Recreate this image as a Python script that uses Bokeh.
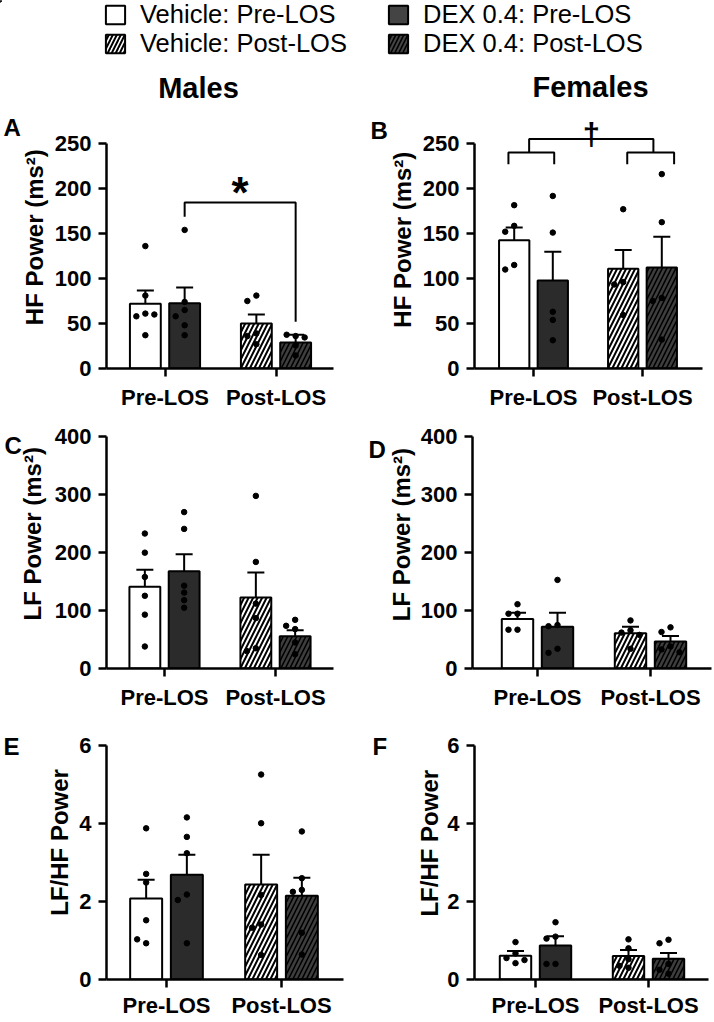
import numpy as np
from bokeh.plotting import figure
from bokeh.layouts import column, row
from bokeh.models import Range1d, FixedTicker, Legend, LegendItem
from bokeh.core.properties import value
from bokeh.embed import file_html
from bokeh.resources import INLINE

FONT = "Liberation Sans"

# ---------------- data ----------------
GROUP_LABELS = ["Pre-LOS", "Post-LOS"]
SERIES_NAMES = ["Vehicle: Pre-LOS", "DEX 0.4: Pre-LOS", "Vehicle: Post-LOS", "DEX 0.4: Post-LOS"]
SERIES_GROUP = [1, 1, 2, 2]
SERIES_SIDE = [-1, 1, -1, 1]

# A: HF power, males
HF_M_MEAN = [72, 72.5, 50, 29]
HF_M_SEM = [14.6, 17.5, 10, 8.5]
HF_M_PTS = [[136, 81, 61, 58, 60, 37], [154, 74, 65, 58, 48, 37],
            [81, 75, 39, 36, 27], [36, 37.5, 34.5, 25.5, 14.5]]
# B: HF power, females
HF_F_MEAN = [142.6, 97.7, 110.8, 112.3]
HF_F_SEM = [14.2, 32.1, 20.8, 34.2]
HF_F_PTS = [[181.5, 158.5, 152, 115, 110], [191.7, 151, 63, 54, 31.4],
            [177, 96, 93.4, 59.4], [216, 162.6, 78.4, 75.1, 32.1]]
# C: LF power, males
LF_M_MEAN = [141, 168, 122.6, 55.8]
LF_M_SEM = [29.4, 29.4, 43.2, 10.2]
LF_M_PTS = [[233, 200, 158, 125.5, 93, 38], [270, 241, 143, 131, 118, 105],
            [298, 184, 112, 87, 35, 30], [84, 73.7, 68, 45, 24.7]]
# D: LF power, females
LF_F_MEAN = [85.6, 72.2, 61, 46.5]
LF_F_SEM = [10.7, 24.1, 11.2, 9.5]
LF_F_PTS = [[111, 94.6, 94.6, 67, 67], [153, 75, 73, 34, 27],
            [83, 66, 62, 58, 34], [71, 63, 38, 33, 28]]
# E: LF/HF, males
LFHF_M_MEAN = [2.08, 2.69, 2.44, 2.15]
LFHF_M_SEM = [0.48, 0.51, 0.76, 0.46]
LFHF_M_PTS = [[3.88, 2.71, 2.49, 1.52, 0.93, 1.03], [4.16, 3.66, 3.24, 2.18, 2.04, 0.93],
              [5.26, 4.01, 2.17, 1.41, 1.33, 0.63], [3.8, 2.6, 2.3, 2.25, 1.2, 0.64]]
# F: LF/HF, females
LFHF_F_MEAN = [0.61, 0.87, 0.6, 0.53]
LFHF_F_SEM = [0.12, 0.24, 0.16, 0.15]
LFHF_F_PTS = [[0.96, 0.67, 0.55, 0.5, 0.42], [1.47, 1.1, 1.05, 0.4, 0.4],
              [1.03, 0.8, 0.52, 0.35, 0.3], [1.02, 0.93, 0.4, 0.25, 0.15]]

Y_TICKS_HF = [0, 50, 100, 150, 200, 250]
Y_TICKS_LF = [0, 100, 200, 300, 400]
Y_TICKS_RATIO = [0, 2, 4, 6]

# significance annotations (data units)
A_BRACKET = dict(a=1, b=3, top=184.5, left_low=168.6, right_low=52, star_y=196)
B_BRACKET = dict(sub_y=240, sub_low=227, top=255, dagger_y=259.5,
                 left=(-0.23, 0.19, -0.04), right=(-0.14, 0.29, 0.10))

# ---------------- styles / layout ----------------
BAR_W = 0.278
BAR_OFF = 0.177
BAR_STYLE = [
    dict(fill_color="white"),
    dict(fill_color="#2b2b2b"),
    dict(fill_color="white", hatch_pattern="/", hatch_color="black", hatch_weight=2, hatch_scale=9),
    dict(fill_color="#3e3e3e", hatch_pattern="/", hatch_color="black", hatch_weight=1.6, hatch_scale=9),
]
LEG_STYLE = [
    dict(fill_color="white"),
    dict(fill_color="#444444"),
    dict(fill_color="white", hatch_pattern="/", hatch_color="black", hatch_weight=2, hatch_scale=8),
    dict(fill_color="#444444", hatch_pattern="/", hatch_color="black", hatch_weight=1.6, hatch_scale=8),
]

COL_LEFT = [0, 357]
COL_W = 357
ROWS = [
    dict(top=104, h=308, ftop=112, fbot=372, ymax=250, ymax_px=143.5, standoff=8),
    dict(top=412, h=300, ftop=420, fbot=671, ymax=400, ymax_px=436.5, standoff=8),
    dict(top=712, h=308, ftop=720, fbot=982, ymax=6, ymax_px=745.5, standoff=5),
]


def bare_fig(w, h, xr, yr):
    f = figure(width=w, height=h, x_range=Range1d(*xr), y_range=Range1d(*yr), output_backend="svg",
               toolbar_location=None, min_border=0, x_axis_location=None, y_axis_location=None)
    f.grid.visible = False
    f.outline_line_color = None
    return f


def swarm_x(vals, center, unit_px, yscale, step=9.0, min_d=7.0):
    placed, out = [], []
    for v in vals:
        dx = 0.0
        for k in (0, -1, 1, -2, 2, -3, 3):
            dx = k * step
            if all((dx - px) ** 2 + ((v - pv) * yscale) ** 2 >= min_d ** 2 for px, pv in placed):
                break
        placed.append((dx, v))
        out.append(center + dx / unit_px)
    return out


def make_panel(col, r, side_w, xpx, means, sems, pts, yticks, ylabel, letter, letter_pos, ylab_pos):
    rc = ROWS[r]
    left = COL_LEFT[col]
    # side strip holding the panel letter and the y-axis title
    side = bare_fig(side_w, rc["h"], (left, left + side_w), (rc["top"] + rc["h"], rc["top"]))
    side.text(x=[letter_pos[0]], y=[letter_pos[1]], text=[letter], text_font=value(FONT),
              text_font_style="bold", text_font_size="24px", text_align="left",
              text_baseline="alphabetic", text_color="black")
    side.text(x=[ylab_pos[0]], y=[ylab_pos[1]], text=[ylabel], angle=np.pi / 2, text_font=value(FONT),
              text_font_style="bold", text_font_size="24px", text_align="center",
              text_baseline="middle", text_color="black")

    ax, t1, t2, end = xpx
    unit = float(t2 - t1)
    x0 = 1 - (t1 - ax) / unit
    x1 = 1 + (end - t1) / unit
    yscale = (rc["fbot"] - rc["ymax_px"]) / rc["ymax"]
    yend = (rc["fbot"] - rc["ftop"]) / yscale
    pleft = left + side_w
    p = figure(width=COL_W - side_w, height=rc["h"], x_range=Range1d(x0, x1), y_range=Range1d(0, yend),
               output_backend="svg", toolbar_location=None,
               min_border_left=ax - pleft, min_border_right=left + COL_W - end,
               min_border_top=rc["ftop"] - rc["top"], min_border_bottom=rc["top"] + rc["h"] - rc["fbot"])
    p.outline_line_color = None
    p.grid.visible = False

    for a in (p.xaxis[0], p.yaxis[0]):
        a.axis_line_width = 2.5
        a.axis_line_color = "black"
        a.major_tick_line_width = 2.5
        a.major_tick_line_color = "black"
        a.major_tick_in = 0
        a.major_tick_out = 8
        a.minor_tick_line_color = None
        a.major_label_text_font = FONT
        a.major_label_text_font_style = "bold"
        a.major_label_text_color = "black"
    p.yaxis.bounds = (0, yticks[-1])
    p.yaxis.ticker = FixedTicker(ticks=yticks)
    p.yaxis.major_label_text_font_size = "22px"
    p.yaxis.major_label_standoff = 7
    p.xaxis.ticker = FixedTicker(ticks=[1, 2])
    p.xaxis.major_label_overrides = {1: GROUP_LABELS[0], 2: GROUP_LABELS[1]}
    p.xaxis.major_label_text_font_size = "22px"
    p.xaxis.major_label_standoff = rc["standoff"]

    xs = [SERIES_GROUP[i] + SERIES_SIDE[i] * BAR_OFF for i in range(4)]
    for i in range(4):
        p.vbar(x=[xs[i]], top=[means[i]], bottom=0, width=BAR_W, line_color="black",
               line_width=2, **BAR_STYLE[i])
    cap = 8.5 / unit
    ups = [m + s for m, s in zip(means, sems)]
    p.segment(x0=xs, y0=means, x1=xs, y1=ups, line_color="black", line_width=2)
    p.segment(x0=[x - cap for x in xs], y0=ups, x1=[x + cap for x in xs], y1=ups,
              line_color="black", line_width=2)
    px_all, py_all = [], []
    for i in range(4):
        px_all += swarm_x(pts[i], xs[i], unit, yscale)
        py_all += pts[i]
    p.scatter(px_all, py_all, size=5.5, color="black")
    return side, p, xs


XPX = {
    "A": (106, 164.5, 275.5, 333), "B": (474, 533, 642, 702),
    "C": (106, 164, 275, 333), "D": (472, 537, 650, 711),
    "E": (106, 166, 281, 343), "F": (474, 535, 648, 708),
}

sA, pA, xsA = make_panel(0, 0, 50, XPX["A"], HF_M_MEAN, HF_M_SEM, HF_M_PTS, Y_TICKS_HF,
                         "HF Power (ms²)", "A", (3, 122), (34, 254))
sB, pB, xsB = make_panel(1, 0, 60, XPX["B"], HF_F_MEAN, HF_F_SEM, HF_F_PTS, Y_TICKS_HF,
                         "HF Power (ms²)", "B", (370, 126), (402, 257))
sC, pC, _ = make_panel(0, 1, 50, XPX["C"], LF_M_MEAN, LF_M_SEM, LF_M_PTS, Y_TICKS_LF,
                       "LF Power (ms²)", "C", (4, 442), (32, 549))
sD, pD, _ = make_panel(1, 1, 60, XPX["D"], LF_F_MEAN, LF_F_SEM, LF_F_PTS, Y_TICKS_LF,
                       "LF Power (ms²)", "D", (368, 447), (401, 550))
sE, pE, _ = make_panel(0, 2, 72, XPX["E"], LFHF_M_MEAN, LFHF_M_SEM, LFHF_M_PTS, Y_TICKS_RATIO,
                       "LF/HF Power", "E", (3, 743), (59, 857))
sF, pF, _ = make_panel(1, 2, 86, XPX["F"], LFHF_F_MEAN, LFHF_F_SEM, LFHF_F_PTS, Y_TICKS_RATIO,
                       "LF/HF Power", "F", (372, 743), (429, 858))

# --- significance bracket in A
ab = A_BRACKET
xa, xb = xsA[ab["a"]], xsA[ab["b"]]
pA.multi_line(xs=[[xa, xa, xb, xb]], ys=[[ab["left_low"], ab["top"], ab["top"], ab["right_low"]]],
              line_color="black", line_width=2)
pA.text(x=[(xa + xb) / 2], y=[ab["star_y"]], text=["*"], text_font=value(FONT), text_font_style="bold",
        text_font_size="44px", text_align="center", text_baseline="middle", text_color="black")

# --- brackets in B
bb = B_BRACKET
l0, l1, ls = [1 + v for v in bb["left"]]
r0, r1, rs = [2 + v for v in bb["right"]]
pB.multi_line(xs=[[l0, l0, l1, l1], [r0, r0, r1, r1], [ls, ls, rs, rs]],
              ys=[[bb["sub_low"], bb["sub_y"], bb["sub_y"], bb["sub_low"]],
                  [bb["sub_low"], bb["sub_y"], bb["sub_y"], bb["sub_low"]],
                  [bb["sub_y"], bb["top"], bb["top"], bb["sub_y"]]],
              line_color="black", line_width=2)
pB.text(x=[(ls + rs) / 2], y=[bb["dagger_y"]], text=["†"], text_font=value(FONT), text_font_style="bold",
        text_font_size="31px", text_align="center", text_baseline="alphabetic", text_color="black")

# ---------------- header: legend + column titles ----------------
hdr = bare_fig(714, 104, (0, 714), (104, 0))
# legend swatch renderers (placed outside the visible range; only used by the legends)
rend = [hdr.vbar(x=[-100], top=[1], width=1, line_color="black", line_width=2, **LEG_STYLE[i])
        for i in range(4)]


def mk_legend(idx, loc):
    return Legend(items=[LegendItem(label=SERIES_NAMES[i], renderers=[rend[i]]) for i in idx],
                  location=loc, orientation="vertical", label_text_font=FONT, label_text_font_size="25.5px",
                  label_text_color="black", glyph_width=24, glyph_height=23, label_standoff=13,
                  spacing=0, padding=0, margin=0, border_line_color=None, background_fill_alpha=0)


hdr.add_layout(mk_legend([0, 2], (103, 46)))
hdr.add_layout(mk_legend([1, 3], (386, 46)))
hdr.text(x=[198, 590], y=[87, 86], text=["Males", "Females"], text_font=value(FONT),
         text_font_style="bold", text_font_size="29px", text_align="center", text_baseline="middle",
         text_color="black")

root = column(hdr, row(sA, pA, sB, pB), row(sC, pC, sD, pD), row(sE, pE, sF, pF))
open("out.html", "w").write(file_html(root, INLINE))
